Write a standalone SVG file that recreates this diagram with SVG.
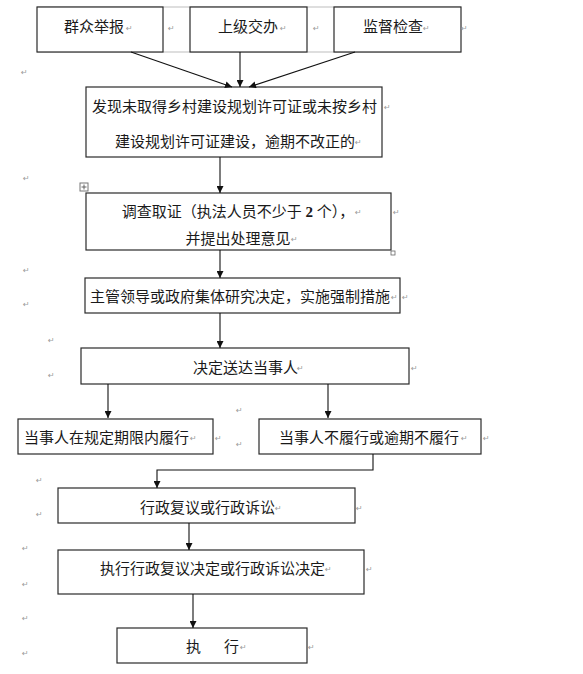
<svg xmlns="http://www.w3.org/2000/svg" width="583" height="674" viewBox="0 0 583 674">
<style>
.box{fill:#fff;stroke:#2a2a2a;stroke-width:1.2}
.t{font-family:"Liberation Serif","Noto Sans CJK SC",serif;font-size:15px;fill:#1a1a1a}
.m{font-family:"DejaVu Sans",sans-serif;font-size:8px;fill:#9a9a9a}
.c{fill:none;stroke:#111;stroke-width:1.1}
.grid{stroke:#bdbdbd;stroke-width:1.2}
</style>
<defs>
<marker id="ah" markerUnits="userSpaceOnUse" markerWidth="7" markerHeight="7" refX="7" refY="3.5" orient="auto">
<path d="M0,0 L7,3.5 L0,7 z" fill="#111"/>
</marker>
</defs>
<rect width="583" height="674" fill="#fff"/>
<g id="gridlines">
<line class="grid" x1="37" y1="7" x2="461" y2="7"/>
<line class="grid" x1="37" y1="52" x2="461" y2="52"/>
</g>
<g id="n1"><rect class="box" x="37" y="7" width="126" height="45"/><text class="t" x="64" y="32">群众举报</text></g>
<g id="n2"><rect class="box" x="190" y="7" width="117" height="45"/><text class="t" x="218" y="32">上级交办</text></g>
<g id="n3"><rect class="box" x="334" y="7" width="127" height="45"/><text class="t" x="363" y="32">监督检查</text></g>
<g id="n4"><rect class="box" x="86" y="87" width="296" height="70"/>
<text class="t" x="92" y="112">发现未取得乡村建设规划许可证或未按乡村</text>
<text class="t" x="115" y="147">建设规划许可证建设，逾期不改正的</text></g>
<g id="n5"><rect class="box" x="86" y="193" width="305" height="57"/>
<text class="t" x="238" y="217" text-anchor="middle">调查取证（执法人员不少于 <tspan font-weight="bold">2</tspan> 个），</text>
<text class="t" x="238" y="244" text-anchor="middle">并提出处理意见</text>
<rect x="80" y="183" width="8" height="8" fill="#fff" stroke="#777" stroke-width="1"/>
<path d="M84,184.5 V189.5 M81.5,187 H86.5" stroke="#555" stroke-width="0.9"/>
<rect x="391" y="251" width="4" height="4" fill="#fff" stroke="#666" stroke-width="0.8"/></g>
<g id="n6"><rect class="box" x="85" y="278" width="315" height="35"/><text class="t" x="90" y="302">主管领导或政府集体研究决定，实施强制措施</text></g>
<g id="n7"><rect class="box" x="81" y="348" width="328" height="36"/><text class="t" x="193" y="373">决定送达当事人</text></g>
<g id="n8"><rect class="box" x="18" y="419" width="195" height="35"/><text class="t" x="24" y="443">当事人在规定期限内履行</text></g>
<g id="n9"><rect class="box" x="259" y="419" width="222" height="35"/><text class="t" x="279" y="443">当事人不履行或逾期不履行</text></g>
<g id="n10"><rect class="box" x="58" y="488" width="297" height="35"/><text class="t" x="140" y="513">行政复议或行政诉讼</text></g>
<g id="n11"><rect class="box" x="58" y="550" width="306" height="44"/><text class="t" x="100" y="574">执行行政复议决定或行政诉讼决定</text></g>
<g id="n12"><rect class="box" x="117" y="628" width="190" height="35"/><text class="t" x="186" y="652">执</text><text class="t" x="224" y="652">行</text></g>
<g id="connectors">
<line class="c" x1="131" y1="52" x2="232" y2="87" marker-end="url(#ah)"/>
<line class="c" x1="240" y1="52" x2="240" y2="87" marker-end="url(#ah)"/>
<line class="c" x1="355" y1="52" x2="249" y2="87" marker-end="url(#ah)"/>
<line class="c" x1="220" y1="157" x2="220" y2="193" marker-end="url(#ah)"/>
<line class="c" x1="220" y1="250" x2="220" y2="278" marker-end="url(#ah)"/>
<line class="c" x1="220" y1="313" x2="220" y2="348" marker-end="url(#ah)"/>
<line class="c" x1="108" y1="384" x2="108" y2="418" marker-end="url(#ah)"/>
<line class="c" x1="328" y1="384" x2="328" y2="418" marker-end="url(#ah)"/>
<path class="c" d="M373,454 V470 H157 V488" marker-end="url(#ah)"/>
<line class="c" x1="189" y1="523" x2="189" y2="550" marker-end="url(#ah)"/>
<line class="c" x1="193" y1="594" x2="193" y2="628" marker-end="url(#ah)"/>
</g>
<g id="marks">
<text class="m" x="126" y="31">↵</text>
<text class="m" x="168" y="31">↵</text>
<text class="m" x="280" y="31">↵</text>
<text class="m" x="313" y="31">↵</text>
<text class="m" x="423" y="31">↵</text>
<text class="m" x="461" y="31">↵</text>
<text class="m" x="21" y="75">↵</text>
<text class="m" x="384" y="110">↵</text>
<text class="m" x="355" y="145">↵</text>
<text class="m" x="23" y="181">↵</text>
<text class="m" x="355" y="215">↵</text>
<text class="m" x="393" y="215">↵</text>
<text class="m" x="291" y="242">↵</text>
<text class="m" x="23" y="273">↵</text>
<text class="m" x="391" y="300">↵</text>
<text class="m" x="402" y="300">↵</text>
<text class="m" x="23" y="307">↵</text>
<text class="m" x="48" y="343">↵</text>
<text class="m" x="297" y="371">↵</text>
<text class="m" x="411" y="371">↵</text>
<text class="m" x="48" y="378">↵</text>
<text class="m" x="236" y="413">↵</text>
<text class="m" x="190" y="441">↵</text>
<text class="m" x="215" y="441">↵</text>
<text class="m" x="236" y="447">↵</text>
<text class="m" x="461" y="441">↵</text>
<text class="m" x="483" y="441">↵</text>
<text class="m" x="36" y="483">↵</text>
<text class="m" x="275" y="511">↵</text>
<text class="m" x="356" y="511">↵</text>
<text class="m" x="36" y="517">↵</text>
<text class="m" x="22" y="551">↵</text>
<text class="m" x="325" y="572">↵</text>
<text class="m" x="366" y="572">↵</text>
<text class="m" x="22" y="587">↵</text>
<text class="m" x="22" y="621">↵</text>
<text class="m" x="240" y="650">↵</text>
<text class="m" x="308" y="650">↵</text>
<text class="m" x="22" y="656">↵</text>
</g>
</svg>
